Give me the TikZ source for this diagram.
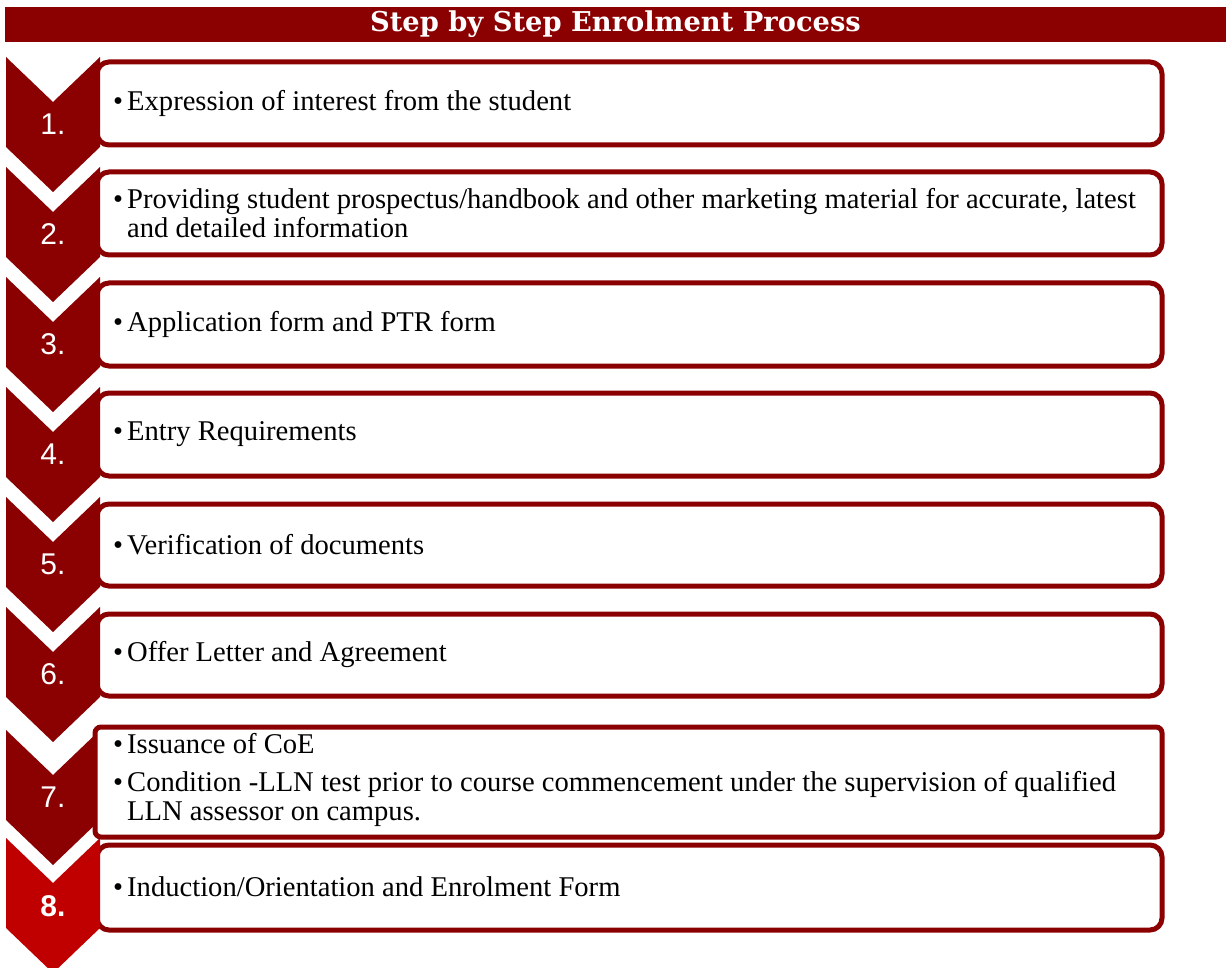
\documentclass[tikz,border=0pt]{standalone}
\usepackage{fontspec}
\setmainfont{Liberation Serif}
\newfontfamily\numfont{Liberation Sans}
\newfontfamily\headfont{DejaVu Serif}
\definecolor{stepred}{RGB}{139,0,0}
\definecolor{lastred}{RGB}{192,0,0}
\tikzset{
  titlebar/.style={fill=stepred, text=white, minimum width=1221pt, minimum height=35pt,
    inner sep=0pt, font=\headfont\bfseries\fontsize{27.3}{30}\selectfont},
  stepbox/.style={draw=stepred, line width=5pt, fill=white, rounded corners=12pt},
  stepnum/.style={text=white, inner sep=0pt, font=\numfont\fontsize{30}{33}\selectfont},
  steptext/.style={anchor=west, align=left, inner sep=0pt, font=\fontsize{28.6}{29}\selectfont},
}
\newcommand{\bul}{\makebox[14pt][l]{\textbullet}}
\newcommand{\chevron}[2]{%
  \fill[#2] (6,#1) -- (53,{#1+45}) -- (100,#1) -- (100,{#1+90})
    -- (53,{#1+135}) -- (6,{#1+90}) -- cycle;}
\begin{document}
\begin{tikzpicture}[x=1pt, y=-1pt]
    \useasboundingbox (0,0) rectangle (1226,968);
    \node[titlebar] (title) at (615.5,24.5) {Step by Step Enrolment Process};

    % the white boxes behind the arrows
    \draw[stepbox] (97,62) rectangle (1162,145);
    \draw[stepbox] (97,172) rectangle (1162,255);
    \draw[stepbox] (97,283) rectangle (1162,366);
    \draw[stepbox] (97,393) rectangle (1162,476);
    \draw[stepbox] (97,504) rectangle (1162,586);
    \draw[stepbox] (97,614) rectangle (1162,696);
    \draw[stepbox] (97,845) rectangle (1162,930);

    % arrows with the step numbers
    \foreach \t/\n in {57/1,167/2,277/3,387/4,497/5,607/6,730/7} {
      \chevron{\t}{stepred}
      \node[stepnum] (n\n) at (53,{\t+67}) {\n.};
    }
    \chevron{838}{lastred}
    \node[stepnum, font=\numfont\bfseries\fontsize{30}{33}\selectfont] (n8) at (53,906) {8.};

    % step 7 has the larger box, drawn over its arrow
    \draw[stepbox, rounded corners=6pt] (95,727) rectangle (1162,837);

    \node[steptext] (t1) at (113,103) {\bul Expression of interest from the student};
    \node[steptext] (t2) at (113,213) {\bul Providing student prospectus/handbook and other marketing material for accurate, latest\\
      \hspace*{14pt}and detailed information};
    \node[steptext] (t3) at (113,324) {\bul Application form and PTR form};
    \node[steptext] (t4) at (113,434) {\bul Entry Requirements};
    \node[steptext] (t5) at (113,545) {\bul Verification of documents};
    \node[steptext] (t6) at (113,655) {\bul Offer Letter and Agreement};
    \node[steptext] (t7) at (113,780) {\bul Issuance of CoE\\[9pt]
      \bul Condition -LLN test prior to course commencement under the supervision of qualified\\
      \hspace*{14pt}LLN assessor on campus.};
    \node[steptext] (t8) at (113,887) {\bul Induction/Orientation and Enrolment Form};

\end{tikzpicture}
\end{document}
